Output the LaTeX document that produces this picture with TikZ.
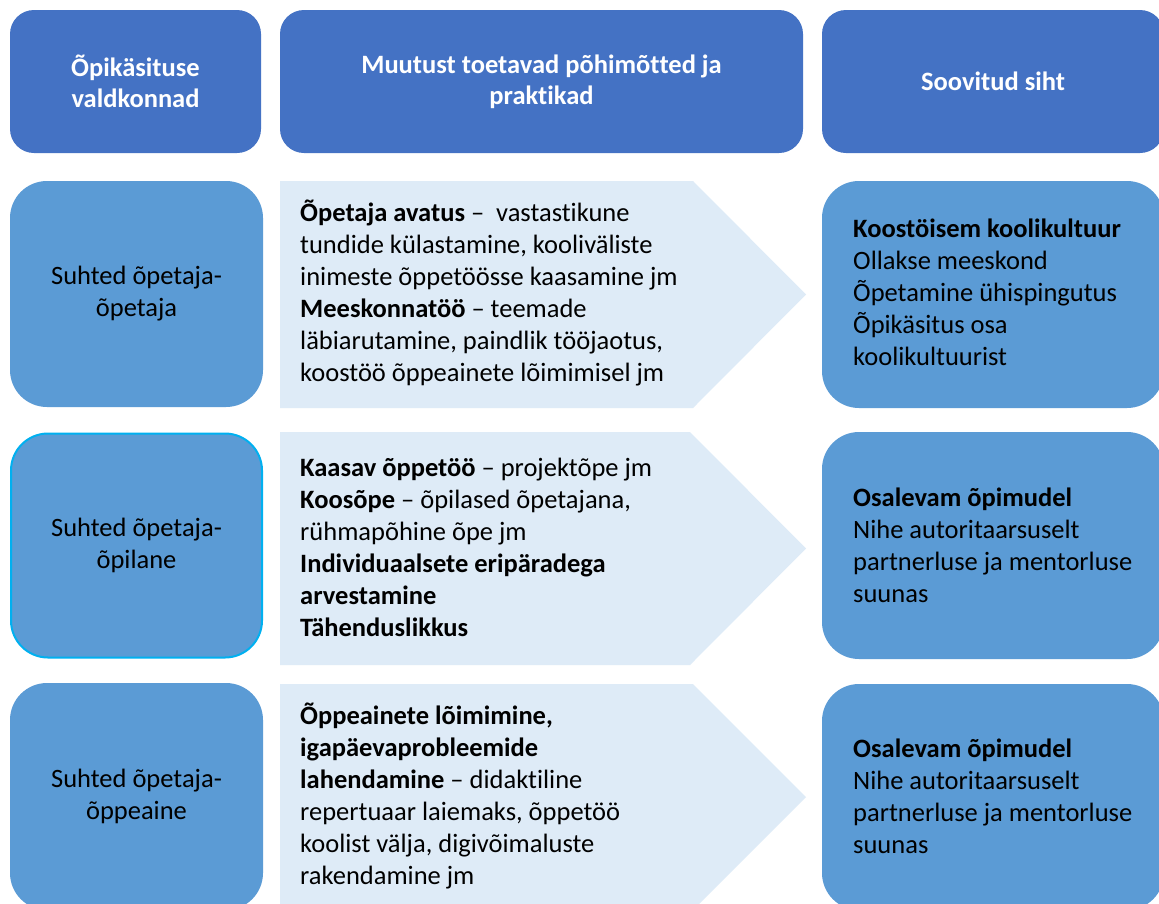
\documentclass[tikz,border=0pt]{standalone}
\usepackage{fontspec}
\setmainfont{Carlito}[RawFeature={-liga;-clig;-calt;-rlig;-dlig}]
\newcommand\nolig{\kern0pt{}}
\definecolor{hdrblue}{HTML}{4472C4}
\definecolor{rowblue}{HTML}{5B9BD5}
\definecolor{arrowfill}{HTML}{DEEBF7}
\definecolor{cyanline}{HTML}{00B0F0}
\tikzset{
  txt/.style={font=\fontsize{26.5}{32}\selectfont, inner sep=0pt},
  hdrbox/.style={fill=hdrblue, rounded corners=24pt, inner sep=0pt, align=center,
     text=white, font=\fontsize{26.5}{31}\selectfont\bfseries},
  rowbox/.style={fill=rowblue, rounded corners=37pt, inner sep=0pt, align=center,
     text=black, font=\fontsize{26.5}{32}\selectfont},
  chevron/.style={fill=arrowfill},
  lefttxt/.style={txt, align=left, anchor=west, text=black},
}
\begin{document}
\begin{tikzpicture}[x=1pt,y=-1pt]
\useasboundingbox[fill=white] (0,0) rectangle (1159,903);
% headers
\node[hdrbox, minimum width=251pt, minimum height=143pt] (h1) at (135.5,81.5) {Õpikäsituse\\valdkonnad};
\node[hdrbox, minimum width=523pt, minimum height=143pt] (h2) at (541.5,81.5) {Muutust toetavad põhimõt\nolig ted ja\\prakt\nolig ikad};
\node[hdrbox, minimum width=342pt, minimum height=143pt] (h3) at (993,81.5) {Soovitud siht};
% left boxes
\node[rowbox, minimum width=253pt, minimum height=226pt] (l1) at (136.5,294) {Suhted õpetaja-\\õpetaja};
\node[rowbox, draw=cyanline, line width=2pt, minimum width=251pt, minimum height=224pt] (l2) at (136.5,545.5) {Suhted õpetaja-\\õpilane};
\node[rowbox, minimum width=253pt, minimum height=227pt] (l3) at (136.5,796.5) {Suhted õpetaja-\\õppeaine};
% chevrons
\fill[chevron] (280,181) -- (693,181) -- (806,294.5) -- (693,408) -- (280,408) -- cycle;
\fill[chevron] (280,432) -- (690,432) -- (806,548.5) -- (690,665) -- (280,665) -- cycle;
\fill[chevron] (280,684) -- (693,684) -- (806,797) -- (693,910) -- (280,910) -- cycle;
\node[lefttxt] (m1) at (300,293) {\textbf{Õpetaja avatus} –\ \ vastast\nolig ikune\\tundide külastamine, kooliväliste\\inimeste õppetöösse kaasamine jm\\\textbf{Meeskonnatöö} – teemade\\läbiarutamine, paindlik tööjaotus,\\koostöö õppeainete lõimimisel jm};
\node[lefttxt] (m2) at (300,547) {\textbf{Kaasav õppetöö} – projektõpe jm\\\textbf{Koosõpe} – õpilased õpetajana,\\rühmapõhine õpe jm\\\textbf{Individuaalsete eripäradega}\\\textbf{arvestamine}\\\textbf{Tähenduslikkus}};
\node[lefttxt] (m3) at (300,796) {\textbf{Õppeainete lõimimine,}\\\textbf{igapäevaprobleemide}\\\textbf{lahendamine} – didakt\nolig iline\\repertuaar laiemaks, õppetöö\\koolist välja, digivõimaluste\\rakendamine jm};
% right boxes
\node[rowbox, minimum width=342pt, minimum height=227pt] (r1) at (993,294.5) {};
\node[rowbox, minimum width=342pt, minimum height=227pt] (r2) at (993,545.5) {};
\node[rowbox, minimum width=342pt, minimum height=226pt] (r3) at (993,797) {};
\node[lefttxt] (t1) at (853,292) {\textbf{Koostöisem koolikultuur}\\Ollakse meeskond\\Õpetamine ühispingutus\\Õpikäsitus osa\\koolikultuurist};
\node[lefttxt] (t2) at (853,545) {\textbf{Osalevam õpimudel}\\Nihe autoritaarsuselt\\partnerluse ja mentorluse\\suunas};
\node[lefttxt] (t3) at (853,796) {\textbf{Osalevam õpimudel}\\Nihe autoritaarsuselt\\partnerluse ja mentorluse\\suunas};
\end{tikzpicture}
\end{document}
